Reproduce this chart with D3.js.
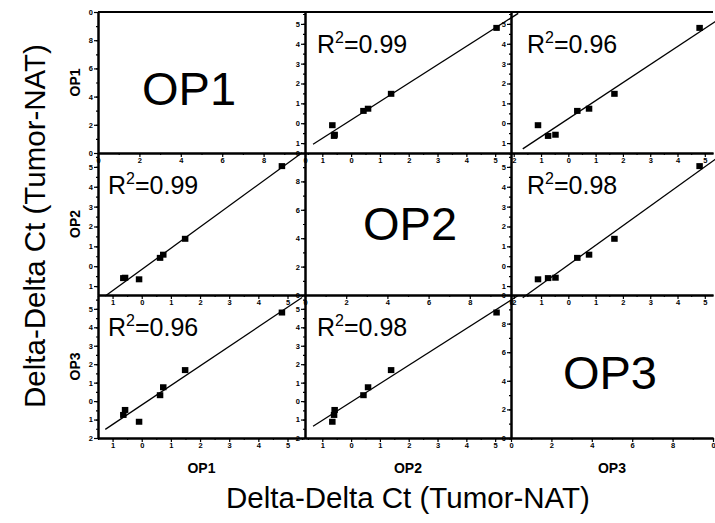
<!DOCTYPE html>
<html>
<head>
<meta charset="utf-8">
<script src="https://cdn.jsdelivr.net/npm/d3@7"></script>
<style>
body { margin: 0; background: #fff; }
text { font-family: Arial, "Liberation Sans", sans-serif; }
</style>
</head>
<body>
<div id="chart"></div>
<script>
// sample values (delta-delta Ct), one per sample
var names = ["OP1", "OP2", "OP3"];
var op1 = [-0.10, -0.64, -0.58, 0.62, 0.73, 1.48, 4.80];
var op2 = [-0.66, -0.60, -0.58, 0.42, 0.58, 1.38, 5.04];
var op3 = [-1.12, -0.75, -0.48, 0.32, 0.75, 1.68, 4.80];
var series = [op1, op2, op3];

// R^2 for each pair (row, col)
var r2 = [[null, "0.99", "0.96"],
          ["0.99", null, "0.98"],
          ["0.96", "0.98", null]];

// axis ranges
var xDomains = [[-1.5, 5.6], [-1.6, 5.55], [-2.1, 5.3]];
var yDomains = [[-1.5, 5.6], [-1.45, 5.7], [-2, 5.75]];
var diagDomain = [0, 10];
var lineRange = [[-1.25, 5.5], [-1.32, 5.8], [-1.67, 5.45]];

var width = 715, height = 523;
var colX = [98, 305, 511, 713];
var rowY = [12, 153, 295, 438];

// source drops the minus signs and the "1" of 10
var fmt = function(v) { return String(Math.abs(v) % 10); };

var svg = d3.select("#chart")
    .append("svg")
    .attr("width", width)
    .attr("height", height);

function ticksFor(dom, step) {
    var out = [];
    for (var v = Math.ceil(dom[0] / step) * step; v <= dom[1] + 1e-9; v += step) out.push(+v.toFixed(2));
    return out;
}

function fit(xs, ys) {
    var mx = d3.mean(xs), my = d3.mean(ys);
    var sxy = d3.sum(xs, (x, k) => (x - mx) * (ys[k] - my));
    var sxx = d3.sum(xs, x => (x - mx) * (x - mx));
    var b = sxy / sxx;
    return { b: b, a: my - b * mx };
}

function styleAxis(g) {
    g.select(".domain").attr("stroke-width", 2).attr("stroke", "#000");
    g.selectAll(".tick line").attr("stroke-width", 1.2).attr("stroke", "#000");
    g.selectAll(".tick text")
        .attr("font-size", "7.5px")
        .attr("font-weight", "bold")
        .attr("fill", "#000");
}

for (var i = 0; i < 3; i++) {
    for (var j = 0; j < 3; j++) {
        var diag = i === j;
        var xs = d3.scaleLinear()
            .domain(diag ? diagDomain : xDomains[j])
            .range([colX[j], colX[j + 1]]);
        var ys = d3.scaleLinear()
            .domain(diag ? diagDomain : yDomains[i])
            .range([rowY[i + 1], rowY[i]]);
        var major = diag ? 2 : 1;

        var cell = svg.append("g");

        // minor ticks
        cell.append("g")
            .attr("transform", `translate(0,${rowY[i + 1]})`)
            .call(d3.axisBottom(xs).tickValues(ticksFor(xs.domain(), major / 2)).tickSize(2).tickFormat("").tickSizeOuter(0))
            .call(styleAxis);
        cell.append("g")
            .attr("transform", `translate(${colX[j]},0)`)
            .call(d3.axisLeft(ys).tickValues(ticksFor(ys.domain(), major / 2)).tickSize(2).tickFormat("").tickSizeOuter(0))
            .call(styleAxis);

        // major ticks + labels
        cell.append("g")
            .attr("transform", `translate(0,${rowY[i + 1]})`)
            .call(d3.axisBottom(xs).tickValues(ticksFor(xs.domain(), major)).tickSize(4).tickPadding(1).tickFormat(fmt).tickSizeOuter(0))
            .call(styleAxis);
        cell.append("g")
            .attr("transform", `translate(${colX[j]},0)`)
            .call(d3.axisLeft(ys).tickValues(ticksFor(ys.domain(), major)).tickSize(4).tickPadding(1).tickFormat(fmt).tickSizeOuter(0))
            .call(styleAxis);

        if (diag) {
            var labelPos = [[0.44, 0.66], [0.51, 0.61], [0.49, 0.66]][i];
            cell.append("text")
                .attr("x", colX[j] + labelPos[0] * (colX[j + 1] - colX[j]))
                .attr("y", rowY[i] + labelPos[1] * (rowY[i + 1] - rowY[i]))
                .attr("text-anchor", "middle")
                .attr("font-size", "47px")
                .text(names[i]);
            continue;
        }

        var xv = series[j], yv = series[i];
        var f = fit(xv, yv);
        var lr = lineRange[j];

        cell.append("line")
            .attr("x1", xs(lr[0])).attr("y1", ys(f.a + f.b * lr[0]))
            .attr("x2", xs(lr[1])).attr("y2", ys(f.a + f.b * lr[1]))
            .attr("stroke", "#000")
            .attr("stroke-width", 1.3);

        cell.selectAll("rect.pt")
            .data(xv.map((x, k) => [x, yv[k]]))
            .enter().append("rect")
            .attr("class", "pt")
            .attr("x", d => xs(d[0]) - 3)
            .attr("y", d => ys(d[1]) - 3)
            .attr("width", 6.5)
            .attr("height", 6)
            .attr("fill", "#000");

        var rt = cell.append("text")
            .attr("x", colX[j] + [10, 12, 16][j])
            .attr("y", rowY[i] + 41)
            .attr("font-size", "25px");
        rt.append("tspan").text("R");
        rt.append("tspan").attr("font-size", "16px").attr("dy", -10).text("2");
        rt.append("tspan").attr("dy", 10).text("=" + r2[i][j]);
    }
}

// top frame
svg.append("line")
    .attr("x1", colX[0]).attr("x2", colX[3])
    .attr("y1", rowY[0]).attr("y2", rowY[0])
    .attr("stroke", "#000").attr("stroke-width", 2);

// row / column names
names.forEach(function(n, k) {
    svg.append("text")
        .attr("transform", `translate(80,${(rowY[k] + rowY[k + 1]) / 2}) rotate(-90)`)
        .attr("text-anchor", "middle")
        .attr("font-size", "14px")
        .attr("font-weight", "bold")
        .text(n);
    svg.append("text")
        .attr("x", (colX[k] + colX[k + 1]) / 2)
        .attr("y", 473)
        .attr("text-anchor", "middle")
        .attr("font-size", "14px")
        .attr("font-weight", "bold")
        .text(n);
});

// axis titles
svg.append("text")
    .attr("x", 408)
    .attr("y", 508)
    .attr("text-anchor", "middle")
    .attr("font-size", "29.5px")
    .text("Delta-Delta Ct (Tumor-NAT)");

svg.append("text")
    .attr("transform", "translate(45,226) rotate(-90)")
    .attr("text-anchor", "middle")
    .attr("font-size", "29.5px")
    .text("Delta-Delta Ct (Tumor-NAT)");
</script>
</body>
</html>
